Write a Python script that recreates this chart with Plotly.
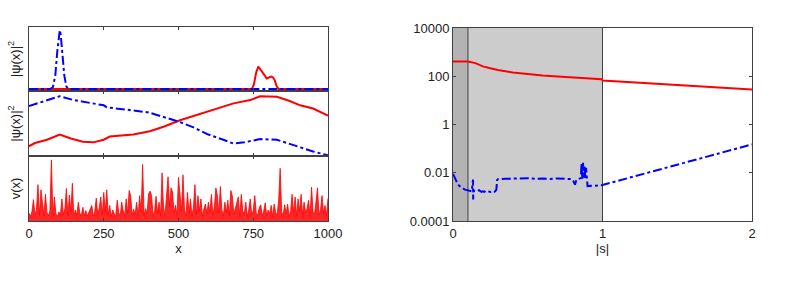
import numpy as np
import plotly.graph_objects as go

# ---------------- data ----------------
# top-left: localized |psi|^2
top_blue_x = [0, 70, 80, 88, 95, 100, 103, 106, 111, 118, 125, 133, 1000]
top_blue_y = [0.03, 0.03, 0.06, 0.25, 0.65, 0.90, 0.97, 0.90, 0.60, 0.25, 0.07, 0.03, 0.03]
top_red_x = [0, 745, 752, 760, 767, 772, 780, 788, 795, 802, 810, 816, 822, 828, 835, 1000]
top_red_y = [0.03, 0.03, 0.10, 0.30, 0.39, 0.36, 0.30, 0.25, 0.20, 0.21, 0.23, 0.22, 0.17, 0.08, 0.03, 0.03]

# middle-left: extended |psi|^2
mid_blue_x = [0, 50, 103, 150, 200, 250, 260, 300, 330, 360, 400, 450, 500, 550, 600, 650, 684, 720, 773, 829, 870, 907, 950, 1000]
mid_blue_y = [0.77, 0.84, 0.92, 0.86, 0.82, 0.78, 0.75, 0.73, 0.71, 0.70, 0.67, 0.60, 0.53, 0.44, 0.33, 0.25, 0.19, 0.21, 0.26, 0.25, 0.19, 0.13, 0.07, 0.01]
mid_red_x = [0, 20, 60, 103, 140, 180, 215, 250, 270, 300, 349, 404, 450, 505, 560, 617, 684, 740, 773, 829, 870, 907, 950, 1000]
mid_red_y = [0.15, 0.20, 0.25, 0.33, 0.27, 0.22, 0.21, 0.25, 0.30, 0.31, 0.33, 0.38, 0.45, 0.55, 0.63, 0.72, 0.81, 0.86, 0.92, 0.91, 0.85, 0.78, 0.73, 0.62]

# bottom-left: random potential v(x), sampled every 5 units from x=0 to 1000
pot_x = list(range(0, 1001, 5))
pot_v = [
    0.12, 0.07, 0.15, 0.33, 0.09, 0.18, 0.56, 0.09, 0.48, 0.29,
    0.08, 0.41, 0.13, 0.08, 0.16, 0.94, 0.07, 0.37, 0.11, 0.07,
    0.14, 0.09, 0.34, 0.10, 0.19, 0.50, 0.08, 0.40, 0.15, 0.58,
    0.07, 0.17, 0.09, 0.29, 0.12, 0.08, 0.21, 0.08, 0.16, 0.08,
    0.13, 0.18, 0.24, 0.07, 0.15, 0.35, 0.10, 0.20, 0.37, 0.09,
    0.44, 0.14, 0.48, 0.09, 0.24, 0.07, 0.17, 0.11, 0.07, 0.32,
    0.13, 0.08, 0.29, 0.16, 0.08, 0.34, 0.12, 0.47, 0.39, 0.09,
    0.18, 0.10, 0.29, 0.07, 0.39, 0.14, 0.87, 0.08, 0.19, 0.11,
    0.42, 0.46, 0.39, 0.07, 0.16, 0.38, 0.12, 0.29, 0.08, 0.74,
    0.20, 0.09, 0.45, 0.68, 0.22, 0.51, 0.45, 0.13, 0.24, 0.09,
    0.67, 0.37, 0.15, 0.71, 0.18, 0.08, 0.44, 0.12, 0.34, 0.08,
    0.21, 0.56, 0.10, 0.39, 0.16, 0.34, 0.07, 0.19, 0.26, 0.11,
    0.29, 0.14, 0.41, 0.09, 0.22, 0.51, 0.39, 0.12, 0.53, 0.17,
    0.08, 0.29, 0.13, 0.32, 0.08, 0.47, 0.39, 0.10, 0.18, 0.29,
    0.37, 0.07, 0.41, 0.15, 0.11, 0.29, 0.07, 0.18, 0.34, 0.09,
    0.16, 0.39, 0.12, 0.09, 0.20, 0.25, 0.08, 0.15, 0.28, 0.08,
    0.17, 0.11, 0.24, 0.07, 0.26, 0.13, 0.09, 0.32, 0.81, 0.14,
    0.09, 0.25, 0.11, 0.26, 0.07, 0.16, 0.41, 0.12, 0.37, 0.08,
    0.34, 0.15, 0.41, 0.09, 0.29, 0.13, 0.19, 0.32, 0.07, 0.52,
    0.14, 0.10, 0.35, 0.51, 0.09, 0.17, 0.39, 0.12, 0.24, 0.08,
    0.35,
]

# right: quantities versus |s|
s_red = [0, 0.1, 0.15, 0.2, 0.25, 0.3, 0.4, 0.5, 0.6, 0.7, 0.8, 0.9, 0.995, 1.0, 2.0]
v_red = [410, 410, 350, 257, 214, 180, 144, 123, 107, 98, 89, 83, 76, 66, 28]

s_blue = [0, 0.02, 0.034, 0.05, 0.067, 0.08, 0.094, 0.11, 0.125, 0.134, 0.135, 0.136,
          0.145, 0.16, 0.175, 0.19, 0.2, 0.21, 0.22, 0.235, 0.25, 0.26, 0.275, 0.285,
          0.29, 0.295, 0.3, 0.35, 0.4, 0.45, 0.5, 0.55, 0.6, 0.65, 0.7, 0.75, 0.79,
          0.805, 0.816, 0.825, 0.84, 0.855, 0.86, 0.865, 0.87, 0.875, 0.88, 0.885,
          0.89, 0.9, 0.95, 1.0, 2.0]
v_blue = [0.0089, 0.0050, 0.0032, 0.0026, 0.0022, 0.0020, 0.0019, 0.0018, 0.0017, 0.0052, 0.00078, 0.0017,
          0.0018, 0.0017, 0.0019, 0.0016, 0.0017, 0.0016, 0.0018, 0.0017, 0.0016, 0.0017, 0.0016, 0.0018,
          0.0020, 0.0049, 0.0054, 0.0056, 0.0058, 0.0056, 0.0059, 0.0056, 0.0058, 0.0055, 0.0058, 0.0056, 0.0055,
          0.0045, 0.0032, 0.0050, 0.0056, 0.0060, 0.025, 0.0056, 0.026, 0.0063, 0.020, 0.0056,
          0.016, 0.0028, 0.0029, 0.0031, 0.15]

x_ticks = [0, 250, 500, 750, 1000]
s_ticks = [0, 1, 2]
log_tickvals = [1e-4, 1e-2, 1, 1e2, 1e4]
log_ticktext = ["0.0001", "0.01", "1", "100", "10000"]

# ---------------- figure ----------------
RED = "#ff0000"
BLUE = "#0000ff"
LINE = "#404040"
FONT = "Liberation Sans, Arial, sans-serif"

fig = go.Figure()
fig.add_trace(go.Scatter(x=top_red_x, y=top_red_y, mode="lines", line=dict(color=RED, width=2), xaxis="x", yaxis="y"))
fig.add_trace(go.Scatter(x=top_blue_x, y=top_blue_y, mode="lines", line=dict(color=BLUE, width=2, dash="dashdot"), xaxis="x", yaxis="y"))
fig.add_trace(go.Scatter(x=mid_red_x, y=mid_red_y, mode="lines", line=dict(color=RED, width=2), xaxis="x2", yaxis="y2"))
fig.add_trace(go.Scatter(x=mid_blue_x, y=mid_blue_y, mode="lines", line=dict(color=BLUE, width=2, dash="dashdot"), xaxis="x2", yaxis="y2"))
fig.add_trace(go.Scatter(x=pot_x, y=pot_v, mode="lines", fill="tozeroy", fillcolor="rgba(255,0,0,0.85)",
                         line=dict(color=RED, width=0.8), xaxis="x3", yaxis="y3"))
fig.add_trace(go.Scatter(x=s_red, y=v_red, mode="lines", line=dict(color=RED, width=2), xaxis="x4", yaxis="y4"))
fig.add_trace(go.Scatter(x=s_blue, y=v_blue, mode="lines", line=dict(color=BLUE, width=2, dash="dashdot"), xaxis="x4", yaxis="y4"))

W, H = 789, 292
def fx(px):
    return px / W
def fy(py):
    return 1 - py / H

lx = [fx(29), fx(328)]
common_x = dict(showline=True, mirror="ticks", linecolor=LINE, linewidth=1, ticks="inside",
                ticklen=3, tickcolor=LINE, showgrid=False, zeroline=False, automargin=False,
                tickfont=dict(family=FONT, size=13, color="#222"))
common_y = dict(showline=True, mirror=True, linecolor=LINE, linewidth=1, showgrid=False,
                zeroline=False, showticklabels=False, ticks="", automargin=False)

ytitle_font = dict(family=FONT, size=13, color="#222")

fig.update_layout(
    width=W, height=H, margin=dict(l=0, r=0, t=0, b=0),
    paper_bgcolor="white", plot_bgcolor="white", showlegend=False,
    font=dict(family=FONT, size=13, color="#222"),
    xaxis=dict(domain=lx, anchor="y", range=[0, 1000], tickvals=x_ticks, showticklabels=False, **common_x),
    yaxis=dict(domain=[fy(91), fy(27)], anchor="x", range=[0, 1.02],
               title=dict(text="|ψ(x)|<sup>2</sup>", font=ytitle_font, standoff=4), **common_y),
    xaxis2=dict(domain=lx, anchor="y2", range=[0, 1000], tickvals=x_ticks, showticklabels=False, **common_x),
    yaxis2=dict(domain=[fy(156), fy(91)], anchor="x2", range=[0, 1],
                title=dict(text="|ψ(x)|<sup>2</sup>", font=ytitle_font, standoff=4), **common_y),
    xaxis3=dict(domain=lx, anchor="y3", range=[0, 1000], tickvals=x_ticks,
                title=dict(text="x", font=ytitle_font, standoff=2), **common_x),
    yaxis3=dict(domain=[fy(221), fy(156)], anchor="x3", range=[0, 1.0],
                title=dict(text="v(x)", font=ytitle_font, standoff=4), **common_y),
    xaxis4=dict(domain=[fx(453), fx(752)], anchor="y4", range=[0, 2], tickvals=s_ticks,
                title=dict(text="|s|", font=ytitle_font, standoff=2), **common_x),
    yaxis4=dict(domain=[fy(221), fy(28)], anchor="x4", type="log", range=[-4, 4],
                tickvals=log_tickvals, ticktext=log_ticktext, showline=True, mirror="ticks",
                linecolor=LINE, linewidth=1, ticks="inside", ticklen=3, tickcolor=LINE,
                showgrid=False, zeroline=False, automargin=False,
                tickfont=dict(family=FONT, size=13, color="#222")),
)

fig.add_shape(type="rect", xref="x4", yref="paper", x0=0, x1=0.1, y0=fy(221), y1=fy(28),
              fillcolor="#b3b3b3", line=dict(width=0), layer="below")
fig.add_shape(type="rect", xref="x4", yref="paper", x0=0.1, x1=1, y0=fy(221), y1=fy(28),
              fillcolor="#cccccc", line=dict(width=0), layer="below")
for xv in [0.1, 1]:
    fig.add_shape(type="line", xref="x4", yref="paper", x0=xv, x1=xv, y0=fy(221), y1=fy(28),
                  line=dict(color=LINE, width=1), layer="below")

fig.write_html("out.html", config={"displayModeBar": False},
               post_script="document.body.style.margin='0';document.body.style.overflow='hidden';")
